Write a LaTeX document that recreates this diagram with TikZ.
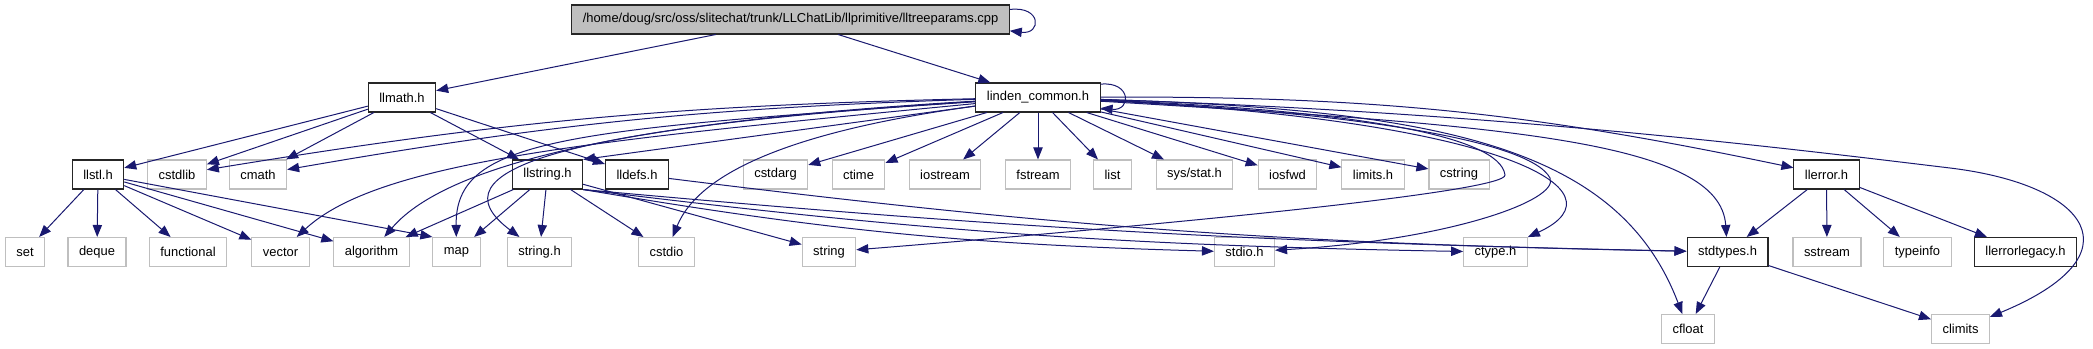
\documentclass[tikz,border=0pt]{standalone}
\usepackage{fontspec}
\setmainfont{Liberation Sans}
\usetikzlibrary{arrows.meta}

\begin{document}
\begin{tikzpicture}[x=0.75pt, y=0.75pt,
  box/.style={draw, line width=0.8pt, minimum height=21.75pt, inner xsep=8.25pt, inner ysep=0pt,
    font=\fontsize{9.7}{11.6}\selectfont},
  docfile/.style={box, draw=black!85},
  sysfile/.style={box, draw=cBorder},
  rootfile/.style={box, draw=black!85, fill=cBorder},
  dep/.style={draw=cEdge, line width=0.75pt, -{Triangle[length=9pt, width=7pt]}}]
  % Doxygen include graph colours
  \definecolor{cEdge}{RGB}{25, 25, 112}     % midnight blue
  \definecolor{cBorder}{RGB}{191, 191, 191} % light gray

  % Page, in pixels of the reference (y runs downwards)
  \path[use as bounding box, fill=white] (0,0) rectangle (2093,-349);

  % Row 0: the source file
  \node[rootfile] (root) at (790.5,-19.5) {/home/doug/src/oss/slitechat/trunk/LLChatLib/llprimitive/lltreeparams.cpp};

  % Row 1
  \node[docfile] (llmath)  at (402,-97.5)  {llmath.h};
  \node[docfile] (lcommon) at (1038,-97.5) {linden\_common.h};

  % Row 2
  \node[docfile] (llstl)    at (98,-174.5)     {llstl.h};
  \node[sysfile] (cstdlib)  at (177,-174.5)    {cstdlib};
  \node[sysfile] (cmath)    at (258,-174.5)    {cmath};
  \node[docfile] (llstring) at (547.5,-174.5)  {llstring.h};
  \node[docfile] (lldefs)   at (637,-174.5)    {lldefs.h};
  \node[sysfile] (cstdarg)  at (775.5,-174.5)  {cstdarg};
  \node[sysfile] (ctime)    at (858.5,-174.5)  {ctime};
  \node[sysfile] (iostream) at (945,-174.5)    {iostream};
  \node[sysfile] (fstream)  at (1038,-174.5)   {fstream};
  \node[sysfile] (list)     at (1112.5,-174.5) {list};
  \node[sysfile] (sysstat)  at (1194.5,-174.5) {sys/stat.h};
  \node[sysfile] (iosfwd)   at (1287.5,-174.5) {iosfwd};
  \node[sysfile] (limitsh)  at (1373,-174.5)   {limits.h};
  \node[sysfile] (cstring)  at (1459,-174.5)   {cstring};
  \node[docfile] (llerror)  at (1826.5,-174.5) {llerror.h};

  % Row 3
  \node[sysfile] (set)        at (25,-252)     {set};
  \node[sysfile] (deque)      at (97,-252)     {deque};
  \node[sysfile] (functional) at (188,-252)    {functional};
  \node[sysfile] (vector)     at (280.5,-252)  {vector};
  \node[sysfile] (algorithm)  at (371.5,-252)  {algorithm};
  \node[sysfile] (map)        at (456.5,-252)  {map};
  \node[sysfile] (stringh)    at (539.5,-252)  {string.h};
  \node[sysfile] (cstdio)     at (666.5,-252)  {cstdio};
  \node[sysfile] (string)     at (829,-252)    {string};
  \node[sysfile] (stdioh)     at (1244.5,-252) {stdio.h};
  \node[sysfile] (ctypeh)     at (1495.5,-252) {ctype.h};
  \node[docfile] (stdtypes)   at (1727.5,-252) {stdtypes.h};
  \node[sysfile] (sstream)    at (1827,-252)   {sstream};
  \node[sysfile] (typeinfo)   at (1917.5,-252) {typeinfo};
  \node[docfile] (llerrorlegacy) at (2025.5,-252) {llerrorlegacy.h};

  % Row 4
  \node[sysfile] (cfloat)  at (1688,-329)   {cfloat};
  \node[sysfile] (climits) at (1960.5,-329) {climits};

  % Source file
  \draw[dep] ([yshift=7.5pt]root.east) .. controls +(32,4) and +(32,-4) .. ([yshift=-8.5pt]root.east);
  \draw[dep] (root) -- (llmath);
  \draw[dep] (root) -- (lcommon);

  % llmath.h
  \draw[dep] (llmath) -- (llstl);
  \draw[dep] (llmath) -- (cstdlib);
  \draw[dep] (llmath) -- (cmath);
  \draw[dep] (llmath) -- (llstring);
  \draw[dep] (llmath) -- (lldefs);

  % linden_common.h, to the left
  \draw[dep] ([yshift=10pt]lcommon.east) .. controls +(31,3) and +(31,-3) .. ([yshift=-8pt]lcommon.east);
  \draw[dep] (lcommon) to[bend right=4] (cstdlib);
  \draw[dep] (lcommon) to[bend right=4] (cmath);
  \draw[dep] (lcommon) .. controls (600,-140) and (380,-160) .. (vector);
  \draw[dep] (lcommon) .. controls (650,-120) and (450,-160) .. (algorithm);
  \draw[dep] (lcommon) .. controls (560,-130) and (455,-140) .. (map);
  \draw[dep] (lcommon) .. controls (560,-128) and (430,-170) .. (stringh);
  \draw[dep] (lcommon) -- (llstring.north east);
  \draw[dep] (lcommon) .. controls (800,-130) and (700,-170) .. (cstdio);

  % linden_common.h, downwards
  \draw[dep] (lcommon) -- (cstdarg);
  \draw[dep] (lcommon) -- (ctime);
  \draw[dep] (lcommon) -- (iostream);
  \draw[dep] (lcommon) -- (fstream);
  \draw[dep] (lcommon) -- (list);
  \draw[dep] (lcommon) -- (sysstat);
  \draw[dep] (lcommon) -- (iosfwd);
  \draw[dep] (lcommon) -- (limitsh);
  \draw[dep] (lcommon) -- (cstring);

  % linden_common.h, to the right
  \draw[dep] (lcommon) to[bend left=6] (llerror);
  \draw[dep] (lcommon) .. controls (1500,-125) and (1720,-140) .. (stdtypes);
  \draw[dep] (lcommon) .. controls (1450,-110) and (1620,-150) .. (cfloat);
  \draw[dep] (lcommon) .. controls (1500,-120) and (1630,-190) .. (ctypeh);
  \draw[dep] (lcommon) .. controls (1350,-112) and (1530,-140) .. (1550,-178)
                       .. controls (1560,-200) and (1450,-240) .. (stdioh);
  \draw[dep] (lcommon) .. controls (1350,-110) and (1500,-135) .. (1505,-175)
                       .. controls (1507,-191) and (1200,-222) .. (string);
  \draw[dep] (lcommon) .. controls (1500,-112) and (1800,-150) .. (1950,-168)
                       .. controls (2090,-185) and (2140,-255) .. (climits);

  % llstring.h and lldefs.h
  \draw[dep] (llstring) -- (algorithm);
  \draw[dep] (llstring) -- (map);
  \draw[dep] (llstring) -- (stringh);
  \draw[dep] (llstring) -- (cstdio);
  \draw[dep] (llstring) -- (string);
  \draw[dep] (llstring.south east) to[bend right=4] (stdioh);
  \draw[dep] (llstring.south east) to[bend right=3] (ctypeh);
  \draw[dep] (llstring.south east) to[bend right=2] (stdtypes);
  \draw[dep] (lldefs) to[bend right=3] (stdtypes);

  % llstl.h
  \draw[dep] (llstl) -- (set);
  \draw[dep] (llstl) -- (deque);
  \draw[dep] (llstl) -- (functional);
  \draw[dep] (llstl) -- (vector);
  \draw[dep] (llstl) -- (algorithm);
  \draw[dep] (llstl) -- (map.north west);

  % llerror.h and stdtypes.h
  \draw[dep] (llerror) -- (stdtypes);
  \draw[dep] (llerror) -- (sstream);
  \draw[dep] (llerror) -- (typeinfo);
  \draw[dep] (llerror) -- (llerrorlegacy);
  \draw[dep] (stdtypes) -- (cfloat);
  \draw[dep] (stdtypes) -- (climits);

\end{tikzpicture}
\end{document}
